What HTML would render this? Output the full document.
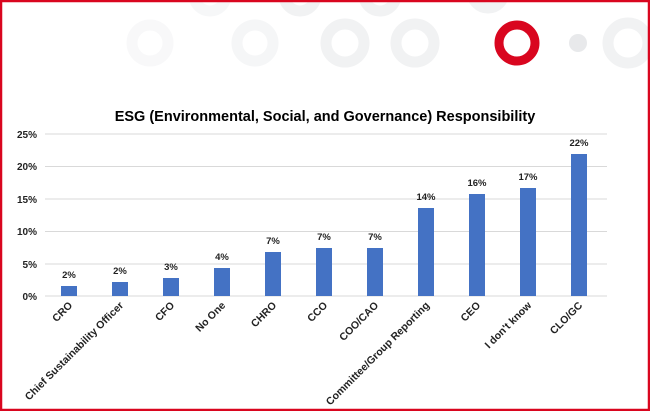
<!DOCTYPE html>
<html><head><style>
html,body{margin:0;padding:0;background:#fff}
svg{display:block}
text{font-family:"Liberation Sans",Arial,sans-serif}
</style></head><body>
<svg width="650" height="411" viewBox="0 0 650 411" xmlns="http://www.w3.org/2000/svg">
<rect x="0" y="0" width="650" height="411" fill="#fff"/>
<g fill="none" stroke="#f1f2f3" stroke-width="11">
<circle cx="150" cy="43" r="18" stroke="#f8f8f9"/>
<circle cx="255" cy="43" r="18" stroke="#f5f6f7"/>
<circle cx="345" cy="43" r="19"/>
<circle cx="415" cy="43" r="19"/>
<circle cx="628" cy="43" r="20"/>
<circle cx="210" cy="-5" r="16" stroke="#f6f7f8"/>
<circle cx="300" cy="-5" r="16"/>
<circle cx="380" cy="-5" r="16"/>
<circle cx="488" cy="-8" r="16"/>
</g>
<circle cx="578" cy="43" r="9" fill="#e8e9eb"/>
<circle cx="517" cy="43" r="18" fill="none" stroke="#d9061f" stroke-width="9"/>
<text x="325" y="121" text-anchor="middle" font-size="14.5" font-weight="bold" fill="#000">ESG (Environmental, Social, and Governance) Responsibility</text>
<g stroke="#d9d9d9" stroke-width="1">
<line x1="45" y1="134" x2="607" y2="134"/><line x1="45" y1="166.5" x2="607" y2="166.5"/>
<line x1="45" y1="199" x2="607" y2="199"/><line x1="45" y1="231.5" x2="607" y2="231.5"/>
<line x1="45" y1="264" x2="607" y2="264"/><line x1="45" y1="296" x2="607" y2="296"/>
</g>
<g font-size="10" font-weight="bold" fill="#222" text-anchor="end">
<text x="37" y="138">25%</text><text x="37" y="170">20%</text><text x="37" y="203">15%</text>
<text x="37" y="235">10%</text><text x="37" y="268">5%</text><text x="37" y="300">0%</text>
</g>
<g fill="#4472c4">
<rect x="61" y="286" width="16" height="10"/>
<rect x="112" y="282" width="16" height="14"/>
<rect x="163" y="278" width="16" height="18"/>
<rect x="214" y="268" width="16" height="28"/>
<rect x="265" y="252" width="16" height="44"/>
<rect x="316" y="248" width="16" height="48"/>
<rect x="367" y="248" width="16" height="48"/>
<rect x="418" y="208" width="16" height="88"/>
<rect x="469" y="194" width="16" height="102"/>
<rect x="520" y="188" width="16" height="108"/>
<rect x="571" y="154" width="16" height="142"/>
</g>
<g font-size="9.5" font-weight="bold" fill="#222" text-anchor="middle">
<text x="69" y="278">2%</text><text x="120" y="274">2%</text><text x="171" y="270">3%</text>
<text x="222" y="260">4%</text><text x="273" y="244">7%</text><text x="324" y="240">7%</text>
<text x="375" y="240">7%</text><text x="426" y="200">14%</text><text x="477" y="186">16%</text>
<text x="528" y="180">17%</text><text x="579" y="146">22%</text>
</g>
<g font-size="10.5" font-weight="bold" fill="#222" text-anchor="end">
<text transform="translate(73,306) rotate(-45)">CRO</text>
<text transform="translate(124,306) rotate(-45)">Chief Sustainability Officer</text>
<text transform="translate(175,306) rotate(-45)">CFO</text>
<text transform="translate(226,306) rotate(-45)">No One</text>
<text transform="translate(277,306) rotate(-45)">CHRO</text>
<text transform="translate(328,306) rotate(-45)">CCO</text>
<text transform="translate(379,306) rotate(-45)">COO/CAO</text>
<text transform="translate(430,306) rotate(-45)">Committee/Group Reporting</text>
<text transform="translate(481,306) rotate(-45)">CEO</text>
<text transform="translate(532,306) rotate(-45)">I don't know</text>
<text transform="translate(583,306) rotate(-45)">CLO/GC</text>
</g>
<rect x="1" y="1" width="648" height="409" fill="none" stroke="#d9061f" stroke-width="2.5"/>
</svg>
</body></html>
